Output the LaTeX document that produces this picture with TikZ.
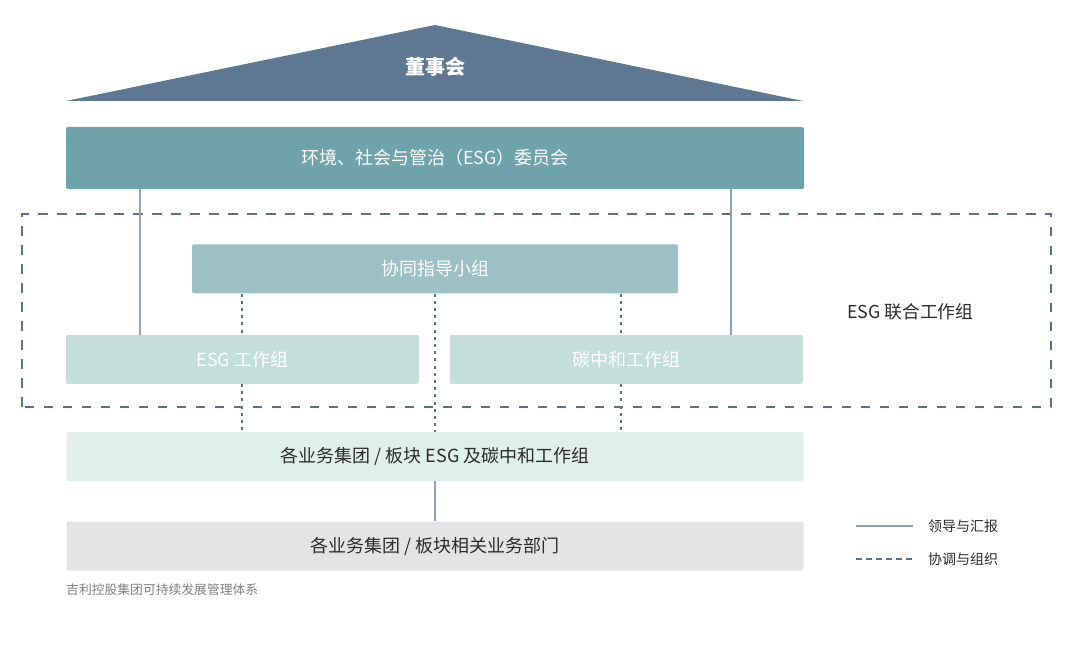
\documentclass[tikz,border=0pt]{standalone}
\usepackage{fontspec}
\setmainfont{Noto Sans CJK SC}
\usetikzlibrary{positioning}
\definecolor{boardblue}{HTML}{5E7893}
\definecolor{esgteal}{HTML}{6FA3AB}
\definecolor{steerteal}{HTML}{9CC0C4}
\definecolor{wgmint}{HTML}{C4DEDA}
\definecolor{bumint}{HTML}{E0EFEB}
\definecolor{deptgray}{HTML}{E4E4E4}
\definecolor{leadline}{HTML}{8DA2B9}
\definecolor{coordline}{HTML}{57708F}
\definecolor{textdark}{HTML}{2B2B2B}
\tikzset{
    %Define style for boxes
    boxbase/.style={
           rectangle,
           rounded corners=2pt,
           inner sep=0pt,
           font=\fontsize{18}{21}\selectfont,
           text=white,
           text centered},
    esgrect/.style={
           boxbase,
           fill=esgteal,
           minimum width=738pt,
           minimum height=62pt},
    steerrect/.style={
           boxbase,
           fill=steerteal,
           minimum width=486pt,
           minimum height=49pt},
    wgrect/.style={
           boxbase,
           fill=wgmint,
           minimum width=353pt,
           minimum height=49pt},
    burect/.style={
           boxbase,
           fill=bumint,
           text=textdark,
           minimum width=737pt,
           minimum height=49pt},
    deptrect/.style={
           burect,
           fill=deptgray},
    % Define line styles
    lead/.style={
           draw=leadline,
           line width=2.8pt},
    coord/.style={
           draw=coordline,
           line width=2.8pt,
           dash pattern=on 3pt off 4.2pt},
    coordkey/.style={
           coord,
           dash pattern=on 5.5pt off 4.5pt},
    jointframe/.style={
           draw=coordline,
           line width=2.6pt,
           dash pattern=on 9.5pt off 9.5pt},
    legendtext/.style={
           anchor=west,
           inner sep=0pt,
           text=textdark,
           font=\fontsize{14}{16}\selectfont}
}
\begin{document}
\begin{tikzpicture}[x=1pt,y=1pt]
\useasboundingbox (0,0) rectangle (1080,652);
 %board roof
\coordinate (apex) at (435,627);
\coordinate (roofl) at (66,551);
\coordinate (roofr) at (803,551);
\fill[boardblue] (roofl) -- (apex) -- (roofr) -- cycle;
\node[inner sep=0pt, text=white, font=\fontsize{20}{24}\selectfont\bfseries] (board) at (435,585) {董事会};

 %nodes
\node[esgrect] (committee) at (435,494) {环境、社会与管治（ESG）委员会};
\node[steerrect, below=55pt of committee] (steer) {协同指导小组};
\node[wgrect, anchor=north west] (esgwg) at ([yshift=-41pt]steer.south -| committee.west) {ESG 工作组};
\node[wgrect, anchor=north east] (carbon) at ([yshift=-41pt]steer.south -| roofr) {碳中和工作组};
\node[burect, anchor=north] (bu) at ([yshift=-48pt]esgwg.south -| apex) {各业务集团 / 板块 ESG 及碳中和工作组};
\node[deptrect, below=40pt of bu] (dept) {各业务集团 / 板块相关业务部门};

 %joint working group frame
\draw[jointframe] (22,245) rectangle (1051,438);
\node[legendtext, font=\fontsize{17.8}{20}\selectfont] (joint) at (847,340) {ESG 联合工作组};

 %line positions
\coordinate (xl) at (140,0);
\coordinate (xr) at (731,0);
\coordinate (dl) at (242,0);
\coordinate (dm) at (435,0);
\coordinate (dr) at (621,0);

 %leading and reporting
\draw[lead] (committee.south -| xl) -- (esgwg.north -| xl);
\draw[lead] (committee.south -| xr) -- (carbon.north -| xr);
\draw[lead] (bu.south -| dm) -- (dept.north -| dm);

 %coordination
\draw[coord] (steer.south -| dl) -- (esgwg.north -| dl);
\draw[coord] (esgwg.south -| dl) -- (bu.north -| dl);
\draw[coord] (steer.south -| dm) -- (bu.north -| dm);
\draw[coord] (steer.south -| dr) -- (carbon.north -| dr);
\draw[coord] (carbon.south -| dr) -- (bu.north -| dr);

 %legend
\coordinate (leadA) at (856,126);
\coordinate (leadB) at (913,126);
\coordinate (coordA) at (856,93);
\coordinate (coordB) at (913,93);
\draw[lead] (leadA) -- (leadB);
\draw[coordkey] (coordA) -- (coordB);
\node[legendtext] (leadlabel) at (928,126) {领导与汇报};
\node[legendtext] (coordlabel) at (928,93) {协调与组织};

 %caption
\node[legendtext, text=gray, font=\fontsize{12.8}{15}\selectfont] (caption) at (66,62) {吉利控股集团可持续发展管理体系};
\end{tikzpicture}
\end{document}
